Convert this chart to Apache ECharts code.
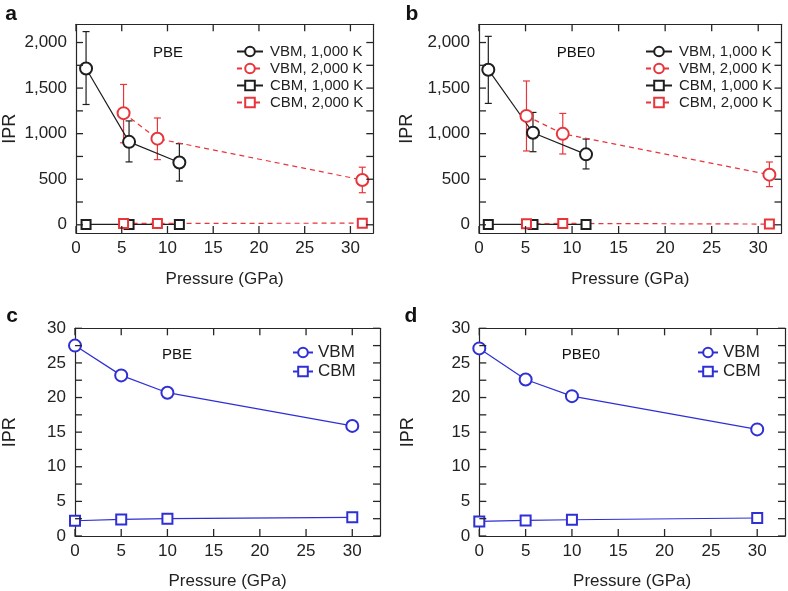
<!DOCTYPE html>
<html>
<head>
<meta charset="utf-8">
<script src="https://cdn.jsdelivr.net/npm/echarts@6/dist/echarts.min.js"></script>
<style>
html,body{margin:0;padding:0;background:#fff;}
#chart{width:788px;height:591px;}
</style>
</head>
<body>
<div id="chart"></div>
<script>
// ---------- data ----------
// Panel a (PBE, MD)
const pbeVbm1000P = [1.1, 5.8, 11.3];
const pbeVbm1000 = [1715, 910, 683];
const pbeVbm1000Lo = [1320, 690, 480];
const pbeVbm1000Hi = [2120, 1140, 890];
const pbeVbm2000P = [5.2, 8.9, 31.3];
const pbeVbm2000 = [1225, 945, 492];
const pbeVbm2000Lo = [900, 715, 352];
const pbeVbm2000Hi = [1540, 1172, 632];
const pbeCbm1000 = [4, 4, 4];
const pbeCbm2000 = [15, 15, 18];
const pbeCbm2000Lo = [7, 7, -12];
const pbeCbm2000Hi = [23, 23, 48];
// Panel b (PBE0, MD)
const pbe0Vbm1000P = [1.0, 5.8, 11.5];
const pbe0Vbm1000 = [1702, 1010, 773];
const pbe0Vbm1000Lo = [1332, 802, 613];
const pbe0Vbm1000Hi = [2068, 1233, 941];
const pbe0Vbm2000P = [5.1, 9.0, 31.2];
const pbe0Vbm2000 = [1195, 998, 550];
const pbe0Vbm2000Lo = [810, 777, 419];
const pbe0Vbm2000Hi = [1578, 1222, 689];
const pbe0Cbm1000 = [4, 4, 4];
const pbe0Cbm2000 = [12, 15, 8];
const pbe0Cbm2000Lo = [5, 8, 1];
const pbe0Cbm2000Hi = [19, 22, 15];
// Panels c, d (static)
const staticP = [0, 5, 10, 30];
const cPbeVbm = [27.5, 23.2, 20.7, 15.9];
const cPbeCbm = [2.2, 2.4, 2.5, 2.7];
const dPbe0Vbm = [27.1, 22.6, 20.2, 15.4];
const dPbe0Cbm = [2.1, 2.25, 2.35, 2.6];
// tick labels
const mdYLabels = [0, 500, 1000, 1500, 2000];
const mdYTicks = [0, 250, 500, 750, 1000, 1250, 1500, 1750, 2000];
const stYLabels = [0, 5, 10, 15, 20, 25, 30];
const stYTicks = [0, 2.5, 5, 7.5, 10, 12.5, 15, 17.5, 20, 22.5, 25, 27.5, 30];
const xLabels = [0, 5, 10, 15, 20, 25, 30];

// ---------- styles ----------
const FONT = 'Liberation Sans, Arial, Helvetica, sans-serif';
const BLACK = '#1e1e1e', RED = '#e8353b', BLUE = '#2f2fd6';
const FRAME = '#262626';
const TICK_LEN = 7;

const grids = [
  {left: 72.7, top: 24.3, width: 300.6, height: 208.7},
  {left: 479, top: 24.3, width: 302.5, height: 208.7},
  {left: 72.7, top: 328.3, width: 307.3, height: 215},
  {left: 479.3, top: 328.3, width: 305.7, height: 215}
];
const xMax = [32.5, 32.5, 33, 33];
const yMin = [-90, -90, 0, 0];
const yMax = [2200, 2200, 30, 30];
const yLab = [mdYLabels, mdYLabels, stYLabels, stYLabels];
const yTck = [mdYTicks, mdYTicks, stYTicks, stYTicks];
const yNameGap = [57, 63, 56, 62];

const xAxis = [], yAxis = [];
grids.forEach((g, i) => {
  const common = {
    axisLine: {show: true, onZero: false, lineStyle: {color: FRAME, width: 1.2}},
    splitLine: {show: false},
    axisTick: {show: false}
  };
  xAxis.push(Object.assign({}, common, {
    type: 'value', gridIndex: i, min: 0, max: xMax[i], interval: 5, position: 'bottom',
    axisLabel: {show: true, margin: 7, color: '#222', fontFamily: FONT, fontSize: 17,
      formatter: v => (v <= 30 ? String(v) : '')},
    name: 'Pressure (GPa)', nameLocation: 'middle', nameGap: i < 2 ? 38 : 37,
    nameTextStyle: {color: '#222', fontFamily: FONT, fontSize: 17}
  }));
  xAxis.push(Object.assign({}, common, {
    type: 'value', gridIndex: i, min: 0, max: xMax[i], interval: 5, position: 'top',
    axisLabel: {show: false}
  }));
  yAxis.push(Object.assign({}, common, {
    type: 'value', gridIndex: i, min: yMin[i], max: yMax[i], position: 'left',
    axisLabel: {show: true, customValues: yLab[i], margin: 9, color: '#222', fontFamily: FONT, fontSize: 17,
      formatter: v => Number(v).toLocaleString('en-US')},
    name: 'IPR', nameLocation: 'middle', nameGap: yNameGap[i], nameRotate: 90,
    nameTextStyle: {color: '#222', fontFamily: FONT, fontSize: 18}
  }));
  yAxis.push(Object.assign({}, common, {
    type: 'value', gridIndex: i, min: yMin[i], max: yMax[i], position: 'right',
    axisLabel: {show: false}
  }));
});

// inward tick marks on all four sides, placed through the axis scales
function tickSeries(panel, values, dir) {
  return {
    type: 'custom', xAxisIndex: panel * 2, yAxisIndex: panel * 2,
    data: values.map(v => dir === 'x' ? [v, yMin[panel]] : [0, v]),
    encode: {x: 0, y: 1},
    z: 4, animation: false, silent: true, clip: false,
    renderItem: function (params, api) {
      const cs = params.coordSys;
      const p = api.coord([api.value(0), api.value(1)]);
      const st = {stroke: FRAME, lineWidth: 1.3};
      if (dir === 'x') {
        const x = p[0];
        return {type: 'group', children: [
          {type: 'line', shape: {x1: x, y1: cs.y + cs.height, x2: x, y2: cs.y + cs.height - TICK_LEN}, style: st},
          {type: 'line', shape: {x1: x, y1: cs.y, x2: x, y2: cs.y + TICK_LEN}, style: st}
        ]};
      }
      const y = p[1];
      return {type: 'group', children: [
        {type: 'line', shape: {x1: cs.x, y1: y, x2: cs.x + TICK_LEN, y2: y}, style: st},
        {type: 'line', shape: {x1: cs.x + cs.width, y1: y, x2: cs.x + cs.width - TICK_LEN, y2: y}, style: st}
      ]};
    }
  };
}

function lineSeries(name, panel, xs, ys, color, symbol, dashed, size) {
  return {
    type: 'line', name: name, xAxisIndex: panel * 2, yAxisIndex: panel * 2,
    data: xs.map((x, k) => [x, ys[k]]),
    symbol: symbol, symbolSize: size, showSymbol: true,
    itemStyle: {color: color, borderColor: color, borderWidth: 1},
    lineStyle: {color: color, width: 1.2, type: dashed ? [5, 4] : 'solid'},
    z: 3, animation: false
  };
}
function errSeries(panel, xs, lo, hi, color) {
  return {
    type: 'custom', xAxisIndex: panel * 2, yAxisIndex: panel * 2,
    data: xs.map((x, k) => [x, lo[k], hi[k]]),
    encode: {x: 0, y: [1, 2]},
    z: 2, animation: false, silent: true,
    renderItem: function (params, api) {
      const x = api.value(0);
      const a = api.coord([x, api.value(1)]);
      const b = api.coord([x, api.value(2)]);
      const w = 3.5;
      const st = {stroke: color, lineWidth: 1.2};
      return {type: 'group', children: [
        {type: 'line', shape: {x1: a[0], y1: a[1], x2: b[0], y2: b[1]}, style: st},
        {type: 'line', shape: {x1: a[0] - w, y1: a[1], x2: a[0] + w, y2: a[1]}, style: st},
        {type: 'line', shape: {x1: b[0] - w, y1: b[1], x2: b[0] + w, y2: b[1]}, style: st}
      ]};
    }
  };
}

const N1 = 'VBM, 1,000 K', N2 = 'VBM, 2,000 K', N3 = 'CBM, 1,000 K', N4 = 'CBM, 2,000 K';
const series = [];
for (let p = 0; p < 4; p++) {
  series.push(tickSeries(p, xLabels, 'x'));
  series.push(tickSeries(p, yTck[p], 'y'));
}
series.push(
  // panel a
  errSeries(0, pbeVbm1000P, pbeVbm1000Lo, pbeVbm1000Hi, BLACK),
  errSeries(0, pbeVbm2000P, pbeVbm2000Lo, pbeVbm2000Hi, RED),
  errSeries(0, pbeVbm2000P, pbeCbm2000Lo, pbeCbm2000Hi, RED),
  lineSeries(N1, 0, pbeVbm1000P, pbeVbm1000, BLACK, 'emptyCircle', false, 12),
  lineSeries(N2, 0, pbeVbm2000P, pbeVbm2000, RED, 'emptyCircle', true, 12),
  lineSeries(N3, 0, pbeVbm1000P, pbeCbm1000, BLACK, 'emptyRect', false, 9),
  lineSeries(N4, 0, pbeVbm2000P, pbeCbm2000, RED, 'emptyRect', true, 9),
  // panel b
  errSeries(1, pbe0Vbm1000P, pbe0Vbm1000Lo, pbe0Vbm1000Hi, BLACK),
  errSeries(1, pbe0Vbm2000P, pbe0Vbm2000Lo, pbe0Vbm2000Hi, RED),
  errSeries(1, pbe0Vbm2000P, pbe0Cbm2000Lo, pbe0Cbm2000Hi, RED),
  lineSeries(N1, 1, pbe0Vbm1000P, pbe0Vbm1000, BLACK, 'emptyCircle', false, 12),
  lineSeries(N2, 1, pbe0Vbm2000P, pbe0Vbm2000, RED, 'emptyCircle', true, 12),
  lineSeries(N3, 1, pbe0Vbm1000P, pbe0Cbm1000, BLACK, 'emptyRect', false, 9),
  lineSeries(N4, 1, pbe0Vbm2000P, pbe0Cbm2000, RED, 'emptyRect', true, 9),
  // panel c
  lineSeries('VBM', 2, staticP, cPbeVbm, BLUE, 'emptyCircle', false, 12),
  lineSeries('CBM', 2, staticP, cPbeCbm, BLUE, 'emptyRect', false, 10),
  // panel d
  lineSeries('VBM', 3, staticP, dPbe0Vbm, BLUE, 'emptyCircle', false, 12),
  lineSeries('CBM', 3, staticP, dPbe0Cbm, BLUE, 'emptyRect', false, 10)
);

function legendAt(left, top, names, size, w, pad) {
  return {
    left: left, top: top, orient: 'vertical', data: names,
    itemWidth: w, itemHeight: 12, itemGap: 2, selectedMode: false,
    textStyle: {color: '#222', fontFamily: FONT, fontSize: size, padding: [0, 0, 0, pad]}
  };
}
const legend = [
  legendAt(231, 39, [N1, N2, N3, N4], 15, 26, 2),
  legendAt(640, 39, [N1, N2, N3, N4], 15, 26, 2),
  legendAt(287, 339, ['VBM', 'CBM'], 17, 20, 0),
  legendAt(692, 339, ['VBM', 'CBM'], 17, 20, 0)
];

function txt(x, y, s, size, weight) {
  return {type: 'text', x: x, y: y, style: {text: s, fill: '#111', font: (weight || 'normal') + ' ' + size + 'px ' + FONT,
    textAlign: 'center', textVerticalAlign: 'middle'}};
}
const graphic = [
  txt(11, 14, 'a', 21, 'bold'),
  txt(412, 14, 'b', 21, 'bold'),
  txt(12, 316, 'c', 21, 'bold'),
  txt(411, 316, 'd', 21, 'bold'),
  txt(168, 53, 'PBE', 15),
  txt(576, 53, 'PBE0', 15),
  txt(177, 355, 'PBE', 15),
  txt(581, 355, 'PBE0', 15)
];

const chart = echarts.init(document.getElementById('chart'), null, {renderer: 'canvas'});
chart.setOption({
  animation: false,
  backgroundColor: '#fff',
  grid: grids,
  xAxis: xAxis,
  yAxis: yAxis,
  legend: legend,
  graphic: graphic,
  series: series
});
</script>
</body>
</html>
